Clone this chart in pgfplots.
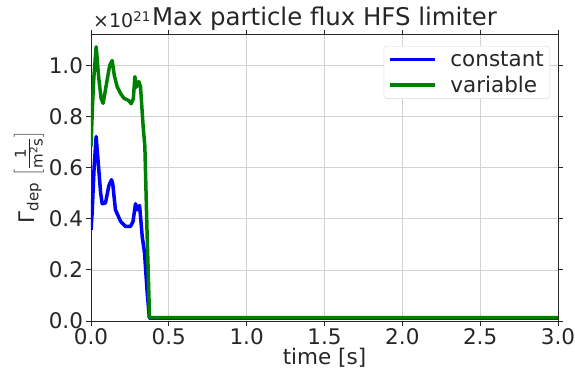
\documentclass[border=0pt]{standalone}
\usepackage{pgfplots}
\pgfplotsset{compat=1.18}
\usepackage{fontspec}
\setmainfont{DejaVu Sans}
\definecolor{mgreen}{RGB}{0,128,0}
\definecolor{mblue}{RGB}{0,0,255}
\begin{document}
\begin{tikzpicture}
\path[use as bounding box] (-91pt,-49pt) rectangle (484pt,321pt);
\begin{axis}[
  scale only axis,
  width=467pt, height=287pt,
  xmin=0, xmax=3.0, ymin=0, ymax=1.123,
  xtick={0,0.5,...,3.0},
  ytick={0,0.2,...,1.0},
  grid=major,
  grid style={gray!35, line width=0.7pt},
  axis line style={black!85, line width=0.9pt},
  tick style={black!85, line width=0.9pt},
  tick align=outside,
  major tick length=4.5pt,
  ticklabel style={font=\fontsize{21.5}{23}\selectfont, text=black!85},
  xticklabel style={/pgf/number format/.cd, fixed, fixed zerofill, precision=1},
  yticklabel style={/pgf/number format/.cd, fixed, fixed zerofill, precision=1},
  /pgf/number format/assume math mode=true,
  scaled ticks=false,
  xlabel={time [s]},
  xlabel style={font=\fontsize{21.5}{23}\selectfont, text=black!85, yshift=4pt},
  ylabel={Γ\textsubscript{dep} $\left[\frac{\mbox{\fontsize{15}{15}\selectfont 1}}{\mbox{\fontsize{15}{15}\selectfont m\textsuperscript{2}s}}\right]$},
  ylabel style={font=\fontsize{21.5}{23}\selectfont, text=black!85, yshift=-2pt},
  title={Max particle flux HFS limiter},
  title style={font=\fontsize{24.4}{26}\selectfont, text=black!85, yshift=-6pt},
  legend style={at={(0.983,0.958)}, anchor=north east, draw=gray!30, rounded corners=3pt,
    font=\fontsize{21.5}{23}\selectfont, text=black!85, inner xsep=4pt, inner ysep=3pt,
    row sep=4pt, /tikz/every odd column/.append style={column sep=12pt}},
  legend cell align=left,
  legend image code/.code={\draw[#1] (0pt,0pt) -- (45pt,0pt);},
  every axis plot/.append style={line width=3.5pt, line join=round},
]
\addplot[mblue] coordinates {
(0.0,0.357)(0.007,0.42)(0.02,0.6)(0.033,0.722)(0.05,0.592)(0.062,0.5)(0.072,0.459)(0.093,0.462)
(0.115,0.53)(0.132,0.553)(0.14,0.535)(0.157,0.435)(0.19,0.39)(0.222,0.37)(0.254,0.37)
(0.27,0.39)(0.286,0.459)(0.297,0.435)(0.312,0.452)(0.318,0.41)(0.329,0.331)(0.344,0.266)
(0.36,0.12)(0.375,0.011)(0.45,0.011)(1.0,0.011)(2.0,0.011)(3.0,0.011)
};
\addlegendentry{constant}
\addplot[mgreen] coordinates {
(0.0,0.683)(0.01,0.85)(0.018,0.95)(0.033,1.073)(0.05,0.95)(0.065,0.87)(0.078,0.852)
(0.1,0.93)(0.12,1.0)(0.136,1.019)(0.15,0.96)(0.168,0.917)(0.19,0.89)(0.211,0.872)(0.243,0.862)
(0.258,0.85)(0.272,0.87)(0.282,0.956)(0.292,0.915)(0.307,0.937)(0.318,0.917)(0.335,0.761)
(0.346,0.683)(0.36,0.35)(0.376,0.013)(0.45,0.013)(1.0,0.013)(2.0,0.013)(3.0,0.013)
};
\addlegendentry{variable}
\end{axis}
\node[anchor=base west, font=\fontsize{19}{21}\selectfont, text=black!85, inner sep=0pt] at (2pt,293pt) {×10\textsuperscript{21}};
\end{tikzpicture}
\end{document}
